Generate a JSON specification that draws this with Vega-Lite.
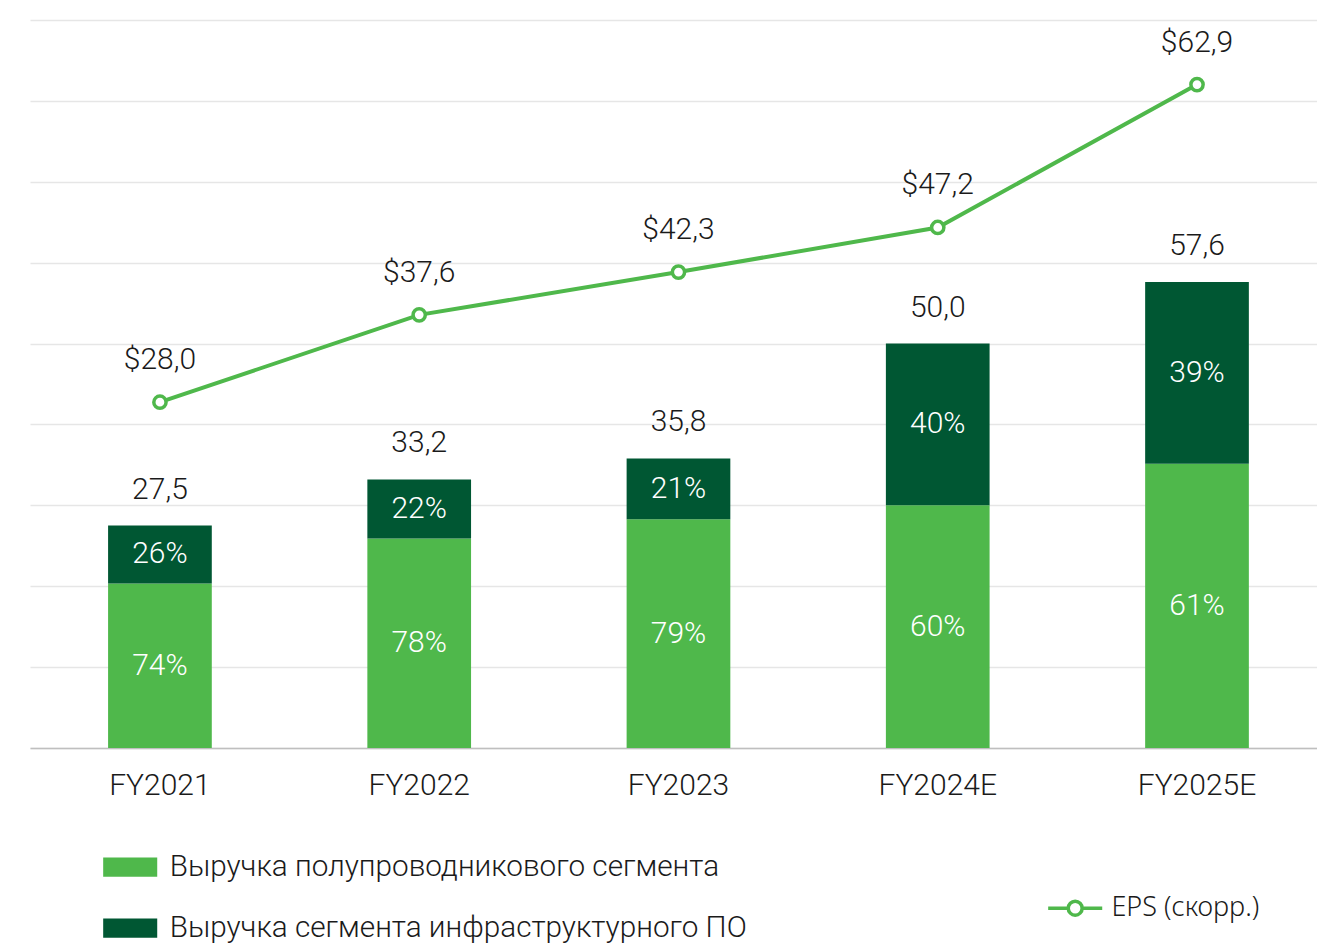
{
  "$schema": "https://vega.github.io/schema/vega-lite/v6.json",
  "autosize": {"type": "none"},
  "padding": {"left": 30, "top": 20, "right": 0, "bottom": 200},
  "width": 1287,
  "height": 728,
  "background": "white",
  "datasets": {
    "seg": [
      {"year": "FY2021", "segment": "Выручка полупроводникового сегмента", "value": 20.35, "share": 0.74},
      {"year": "FY2021", "segment": "Выручка сегмента инфраструктурного ПО", "value": 7.15, "share": 0.26},
      {"year": "FY2022", "segment": "Выручка полупроводникового сегмента", "value": 25.9, "share": 0.78},
      {"year": "FY2022", "segment": "Выручка сегмента инфраструктурного ПО", "value": 7.3, "share": 0.22},
      {"year": "FY2023", "segment": "Выручка полупроводникового сегмента", "value": 28.28, "share": 0.79},
      {"year": "FY2023", "segment": "Выручка сегмента инфраструктурного ПО", "value": 7.52, "share": 0.21},
      {"year": "FY2024E", "segment": "Выручка полупроводникового сегмента", "value": 30.0, "share": 0.60},
      {"year": "FY2024E", "segment": "Выручка сегмента инфраструктурного ПО", "value": 20.0, "share": 0.40},
      {"year": "FY2025E", "segment": "Выручка полупроводникового сегмента", "value": 35.14, "share": 0.61},
      {"year": "FY2025E", "segment": "Выручка сегмента инфраструктурного ПО", "value": 22.46, "share": 0.39}
    ],
    "tot": [
      {"year": "FY2021", "total": 27.5, "eps": 28.0},
      {"year": "FY2022", "total": 33.2, "eps": 37.6},
      {"year": "FY2023", "total": 35.8, "eps": 42.3},
      {"year": "FY2024E", "total": 50.0, "eps": 47.2},
      {"year": "FY2025E", "total": 57.6, "eps": 62.9}
    ]
  },
  "encoding": {
    "x": {
      "field": "year", "type": "nominal", "sort": null,
      "scale": {"paddingInner": 0.6, "paddingOuter": 0.282, "align": 0.534},
      "axis": {
        "title": null, "labelAngle": 0, "ticks": false, "labelPadding": 22,
        "labelFontSize": 30, "labelFont": "'Roboto Light', Roboto", "labelFontWeight": 300, "labelColor": "#1a1a1a",
        "domainColor": "#bfbfbf", "domainWidth": 1.5, "grid": false
      }
    }
  },
  "layer": [
    {
      "layer": [
        {
          "data": {"name": "seg"},
          "mark": {"type": "bar"},
          "encoding": {
            "y": {
              "field": "value", "type": "quantitative", "stack": "zero",
              "scale": {"domain": [0, 90], "nice": false},
              "axis": {
                "title": null, "labels": false, "ticks": false, "domain": false,
                "values": [0, 10, 20, 30, 40, 50, 60, 70, 80, 90],
                "grid": true, "gridColor": "#e6e6e6", "gridWidth": 1.5
              }
            },
            "color": {
              "field": "segment", "type": "nominal",
              "scale": {
                "domain": ["Выручка полупроводникового сегмента", "Выручка сегмента инфраструктурного ПО"],
                "range": ["#4fb84b", "#005733"]
              },
              "legend": {
                "title": null, "orient": "none", "legendX": 80.7, "legendY": 827.7,
                "direction": "vertical",
                "symbolType": "M-1.4,-0.5H1.4V0.5H-1.4Z", "symbolSize": 1490, "symbolStrokeWidth": 0,
                "labelOffset": 20, "rowPadding": 26, "labelLimit": 800,
                "labelFontSize": 29.7, "labelFont": "'Roboto Light', Roboto", "labelFontWeight": 300, "labelColor": "#1a1a1a"
              }
            },
            "order": {"field": "segment", "sort": "ascending"}
          }
        },
        {
          "data": {"name": "seg"},
          "mark": {"type": "text", "color": "white", "fontSize": 30, "font": "'Roboto Light', Roboto", "fontWeight": 300, "baseline": "middle", "dy": 0},
          "encoding": {
            "y": {"field": "value", "type": "quantitative", "stack": "zero", "bandPosition": 0.5, "scale": {"domain": [0, 90], "nice": false}},
            "detail": {"field": "segment"},
            "order": {"field": "segment", "sort": "ascending"},
            "text": {"field": "share", "type": "quantitative", "format": ".0%"}
          }
        },
        {
          "data": {"name": "tot"},
          "mark": {"type": "text", "color": "#1a1a1a", "fontSize": 30, "font": "'Roboto Light', Roboto", "fontWeight": 300, "baseline": "alphabetic", "dy": -27},
          "encoding": {
            "y": {"field": "total", "type": "quantitative", "scale": {"domain": [0, 90], "nice": false}},
            "text": {"field": "total", "type": "quantitative", "format": ".1f"}
          }
        }
      ]
    },
    {
      "data": {"name": "tot"},
      "layer": [
        {
          "mark": {"type": "line", "strokeWidth": 4},
          "encoding": {
            "y": {"field": "eps", "type": "quantitative", "scale": {"domain": [-10, 70], "nice": false}, "axis": null},
            "stroke": {
              "datum": "EPS (скорр.)",
              "scale": {"range": ["#4fb84b"]},
              "legend": {
                "title": null, "orient": "none", "legendX": 1023.7, "legendY": 866.7,
                "symbolType": "M-1.4,0H-0.36M0.36,0H1.4M-0.36,0A0.36,0.36 0 1,0 0.36,0A0.36,0.36 0 1,0 -0.36,0",
                "symbolSize": 1490, "symbolStrokeWidth": 3.5, "symbolFillColor": "white",
                "labelOffset": 14.7, "labelFontSize": 27, "labelFont": "Noto Sans", "labelFontWeight": 300, "labelColor": "#1a1a1a", "labelLimit": 400
              }
            }
          }
        },
        {
          "mark": {"type": "point", "shape": "circle", "filled": true, "fill": "white", "size": 150, "strokeWidth": 3.5, "opacity": 1},
          "encoding": {
            "y": {"field": "eps", "type": "quantitative", "scale": {"domain": [-10, 70], "nice": false}, "axis": null},
            "stroke": {"datum": "EPS (скорр.)"}
          }
        },
        {
          "mark": {"type": "text", "color": "#1a1a1a", "fontSize": 30, "font": "'Roboto Light', Roboto", "fontWeight": 300, "baseline": "alphabetic", "dy": -33},
          "encoding": {
            "y": {"field": "eps", "type": "quantitative", "scale": {"domain": [-10, 70], "nice": false}, "axis": null},
            "text": {"field": "eps", "type": "quantitative", "format": "$.1f"}
          }
        }
      ]
    }
  ],
  "resolve": {"scale": {"y": "independent"}},
  "config": {
    "view": {"stroke": null},
    "locale": {"number": {"decimal": ",", "thousands": " ", "grouping": [3], "currency": ["$", ""]}}
  }
}
